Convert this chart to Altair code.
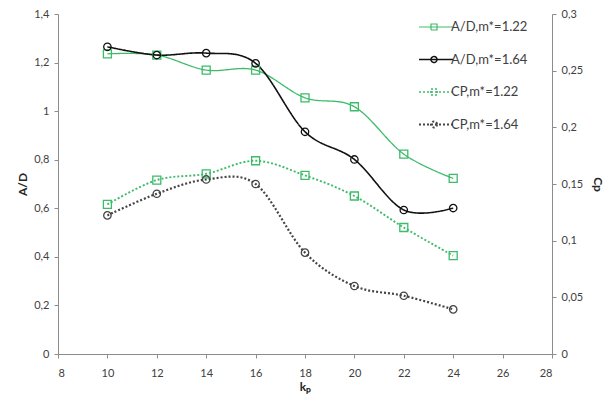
import altair as alt
import pandas as pd

kp = [10, 12, 14, 16, 18, 20, 22, 24]
ad_122 = [1.236, 1.231, 1.169, 1.169, 1.055, 1.018, 0.823, 0.723]
ad_164 = [1.265, 1.231, 1.239, 1.197, 0.915, 0.801, 0.593, 0.601]
cp_122 = [0.132, 0.1535, 0.159, 0.1705, 0.1576, 0.1394, 0.1116, 0.0868]
cp_164 = [0.1223, 0.1414, 0.154, 0.150, 0.0894, 0.060, 0.0514, 0.0394]

series_names = ["A/D,m*=1.22", "A/D,m*=1.64", "CP,m*=1.22", "CP,m*=1.64"]
series_kind = ["AD", "AD", "CP", "CP"]
series_colors = ["#3dbb6a", "#111111", "#3dbb6a", "#444444"]
x_ticks = [8, 10, 12, 14, 16, 18, 20, 22, 24, 26, 28]
ad_ticks = [0, 0.2, 0.4, 0.6, 0.8, 1.0, 1.2, 1.4]
cp_ticks = [0, 0.05, 0.1, 0.15, 0.2, 0.25, 0.3]

rows = []
for name, kind, vals in zip(series_names, series_kind, [ad_122, ad_164, cp_122, cp_164]):
    for k, v in zip(kp, vals):
        rows.append({"kp": k, "value": v, "series": name, "kind": kind})
df = pd.DataFrame(rows)

FONT = "Lato"
LABEL_COLOR = "#404040"
AXIS_COLOR = "#8c8c8c"

color_scale = alt.Scale(domain=series_names, range=series_colors)
dash_scale = alt.Scale(domain=series_names, range=[[1, 0], [1, 0], [2, 2], [2, 2]])
width_scale = alt.Scale(domain=series_names, range=[1.3, 2.2, 2.0, 2.0])
legend_width_scale = alt.Scale(domain=series_names, range=[1.2, 2.0, 1.6, 1.6])

sq_path = "M-2.444,0H1.333M-1.111,-0.333H-0.444V0.333H-1.111Z"
ci_path = "M-2.444,0H1.333M-0.444,0A0.333,0.333 0 1,1 -1.111,0A0.333,0.333 0 1,1 -0.444,0"
shape_scale = alt.Scale(domain=series_names, range=[sq_path, ci_path, sq_path, ci_path])

x_enc = alt.X(
    "kp:Q",
    scale=alt.Scale(domain=[8, 28], nice=False, zero=False),
    axis=alt.Axis(values=x_ticks, title="kₚ", tickSize=4, labelPadding=9,
                  titlePadding=3, labelFontSize=11),
)

def y_enc(domain, ticks, title, orient, fmt, tpad):
    return alt.Y(
        "value:Q",
        scale=alt.Scale(domain=domain, nice=False),
        axis=alt.Axis(values=ticks, title=title, orient=orient, tickSize=4,
                      labelPadding=5, titlePadding=tpad,
                      labelExpr=f"replace(format(datum.value, '{fmt}'), '.', ',')"),
    )

def group(kind, yenc):
    base = alt.Chart(df).transform_filter(alt.datum.kind == kind)
    names = [n for n, k in zip(series_names, series_kind) if k == kind]
    line = base.mark_line(interpolate="cardinal").encode(
        x=x_enc, y=yenc,
        color=alt.Color("series:N", scale=color_scale, legend=None),
        strokeDash=alt.StrokeDash("series:N", scale=dash_scale, legend=None),
        strokeWidth=alt.StrokeWidth("series:N", scale=width_scale, legend=None),
    )
    sq = base.transform_filter(alt.datum.series == names[0]).mark_point(
        shape="square", filled=False, size=64, strokeWidth=1.3, opacity=1
    ).encode(x=x_enc, y=yenc, color=alt.Color("series:N", scale=color_scale, legend=None))
    ci = base.transform_filter(alt.datum.series == names[1]).mark_point(
        shape="circle", filled=False, size=55, strokeWidth=1.3, opacity=1
    ).encode(x=x_enc, y=yenc, color=alt.Color("series:N", scale=color_scale, legend=None))
    return alt.layer(line, sq, ci)

ad_layer = group("AD", y_enc([0, 1.4], ad_ticks, "A/D", "left", ".1~f", 4))
cp_layer = group("CP", y_enc([0, 0.3], cp_ticks, "Cp", "right", ".2~f", 8))

leg = dict(orient="none", legendX=373, legendY=3, title=None, symbolSize=324,
           rowPadding=15.5, labelOffset=0, padding=0,
           labelFont=FONT, labelFontSize=13, labelColor=LABEL_COLOR)

legend_layer = alt.Chart(df).transform_filter(alt.datum.kp < 0).mark_point(
    filled=False, size=324, strokeWidth=1.4, opacity=1
).encode(
    color=alt.Color("series:N", scale=color_scale, legend=alt.Legend(**leg)),
    shape=alt.Shape("series:N", scale=shape_scale, legend=alt.Legend(**leg)),
    strokeDash=alt.StrokeDash("series:N", scale=dash_scale, legend=alt.Legend(**leg)),
    strokeWidth=alt.StrokeWidth("series:N", scale=legend_width_scale, legend=alt.Legend(**leg)),
)

chart = alt.layer(ad_layer, cp_layer, legend_layer).resolve_scale(
    y="independent", color="independent", strokeDash="independent",
    shape="independent", strokeWidth="independent",
).properties(
    width=494, height=340,
    padding={"left": 58, "top": 14, "right": 62, "bottom": 45},
    autosize=alt.AutoSizeParams(type="none"),
    background="white",
).configure_view(stroke=None).configure_axis(
    grid=False, domainColor=AXIS_COLOR, tickColor=AXIS_COLOR,
    labelColor=LABEL_COLOR, labelFont=FONT, labelFontSize=11,
    titleFont=FONT, titleFontSize=12, titleFontWeight="bold", titleColor="#262626",
)

chart.save("out.html", embed_options={"renderer": "svg", "actions": False})
